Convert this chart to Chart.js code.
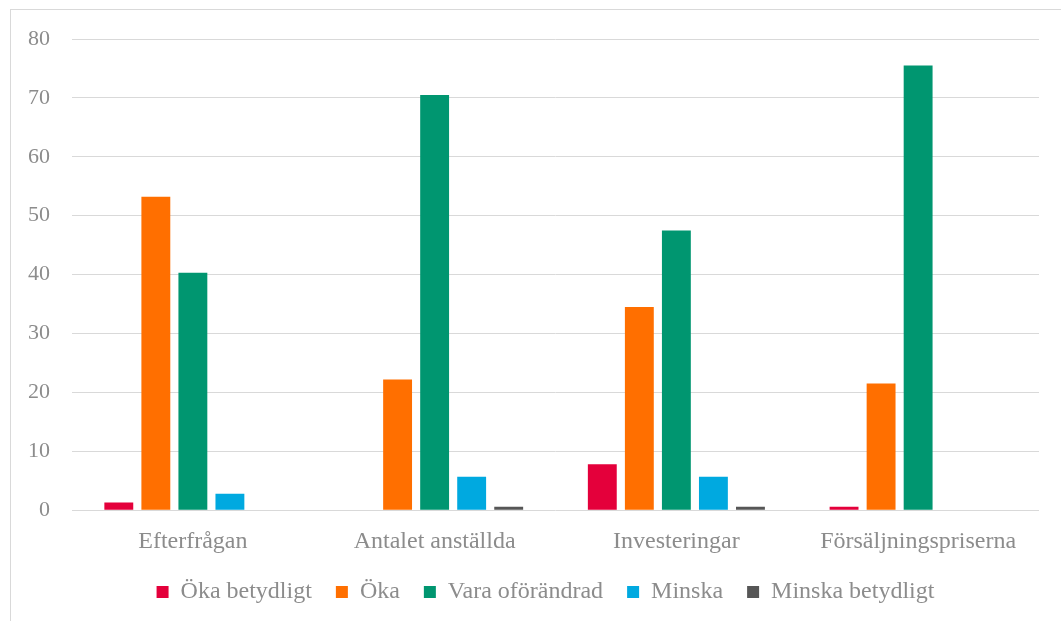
<!DOCTYPE html>
<html>
<head>
<meta charset="utf-8">
<script src="https://cdn.jsdelivr.net/npm/chart.js@4/dist/chart.umd.min.js"></script>
<style>
  html, body { margin: 0; padding: 0; background: #fff; overflow: hidden; }
  #frame {
    position: absolute; left: 10px; top: 9px;
    width: 1060px; height: 640px;
    border-left: 1px solid #d9d9d9; border-top: 1px solid #d9d9d9;
  }
  #chart-box { position: absolute; left: 0; top: 0; width: 1050px; height: 630px; }
</style>
</head>
<body>
<div id="frame"><div id="chart-box"><canvas id="myChart"></canvas></div></div>
<script>
// categories
var categories = ['Efterfrågan', 'Antalet anställda', 'Investeringar', 'Försäljningspriserna'];

// series values (percent)
var okaBetydligt = [1.3, 0, 7.8, 0.6];
var oka = [53.2, 22.2, 34.5, 21.5];
var varaOforandrad = [40.3, 70.5, 47.5, 75.5];
var minska = [2.8, 5.7, 5.7, 0];
var minskaBetydligt = [0, 0.6, 0.6, 0];

var seriesNames = ['Öka betydligt', 'Öka', 'Vara oförändrad', 'Minska', 'Minska betydligt'];
var seriesColors = ['#e4003b', '#ff6f00', '#009670', '#00a9e0', '#565656'];

var yTicks = [0, 10, 20, 30, 40, 50, 60, 70, 80];

var allSeries = [okaBetydligt, oka, varaOforandrad, minska, minskaBetydligt];
var datasets = allSeries.map(function(values, i) {
    return {
        label: seriesNames[i],
        data: values,
        backgroundColor: seriesColors[i],
        borderWidth: 0,
        categoryPercentage: 0.766,
        barPercentage: 0.78
    };
});

var textColor = '#8c8c8c';
var fontFamily = "'Liberation Serif', 'Times New Roman', serif";

// nudge the legend a little to the right, like the original
var legendShift = {
    id: 'legendShift',
    afterLayout: function(chart) {
        chart.legend.left += 12;
        chart.legend.right += 12;
    }
};

new Chart(document.getElementById('myChart'), {
    type: 'bar',
    data: { labels: categories, datasets: datasets },
    plugins: [legendShift],
    options: {
        responsive: true,
        maintainAspectRatio: false,
        animation: false,
        layout: { padding: { left: 17, right: 22, top: 29, bottom: 26 } },
        scales: {
            y: {
                min: 0,
                max: 80,
                afterBuildTicks: function(axis) {
                    axis.ticks = yTicks.map(function(v) { return { value: v }; });
                },
                afterFit: function(scale) {
                    scale.width = 44;
                    scale.paddingTop = 0;
                    scale.paddingBottom = 0;
                },
                border: { display: false },
                grid: { color: '#d9d9d9', lineWidth: 1, drawTicks: false },
                ticks: { color: textColor, font: { family: fontFamily, size: 22 }, padding: 22 }
            },
            x: {
                afterFit: function(scale) { scale.height -= 17; },
                border: { display: false },
                grid: { display: false, drawTicks: false },
                ticks: { color: textColor, font: { family: fontFamily, size: 24 }, padding: 17 }
            }
        },
        plugins: {
            tooltip: { enabled: false },
            legend: {
                position: 'bottom',
                labels: {
                    color: textColor,
                    font: { family: fontFamily, size: 24 },
                    boxWidth: 12,
                    boxHeight: 12,
                    padding: 24
                }
            }
        }
    }
});
</script>
</body>
</html>
